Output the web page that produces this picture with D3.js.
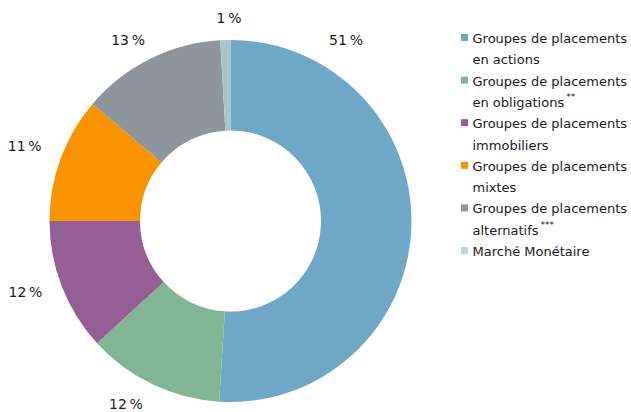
<!DOCTYPE html>
<html><head><meta charset="utf-8">
<script src="https://cdn.jsdelivr.net/npm/d3@7"></script>
<style>html,body{margin:0;padding:0;background:#fff;}svg{display:block;}</style>
</head><body>
<svg id="chart" width="631" height="412"></svg>
<script>
// ---- data ----
const categories = ["Groupes de placements en actions", "Groupes de placements en obligations", "Groupes de placements immobiliers", "Groupes de placements mixtes", "Groupes de placements alternatifs", "Marché Monétaire"];
const values = [51.0, 12.2, 11.8, 11.2, 12.9, 0.9];
const valueLabels = ["51\u2009%", "12\u2009%", "12\u2009%", "11\u2009%", "13\u2009%", "1\u2009%"];
const legendLine1 = ["Groupes de placements", "Groupes de placements", "Groupes de placements", "Groupes de placements", "Groupes de placements", "Marché Monétaire"];
const legendLine2 = ["en actions", "en obligations", "immobiliers", "mixtes", "alternatifs", ""];
const legendSup = ["", "**", "", "", "***", ""];
const sliceColors = ["#6fa8c6", "#82b594", "#955f96", "#f79400", "#8e959d", "#a9c5c7"];
const legendColors = ["#6fa8c6", "#82b594", "#955f96", "#f79400", "#8e959d", "#bcd6e5"];
// label placement (degrees clockwise from top, radius)
const labelAngles = [32.5, 209.7, 250.9, 290, 330.5, -0.4];
const labelRadii = [215, 211, 217, 219, 208, 203];

const svg = d3.select("#chart");
const cx = 230.5, cy = 221, rOuter = 181, rInner = 90.5;
const g = svg.append("g").attr("transform", `translate(${cx},${cy})`);

const pie = d3.pie().value(d => d).sort(null);
const arcs = pie(values);
const arc = d3.arc().innerRadius(rInner).outerRadius(rOuter);

g.selectAll("path.slice").data(arcs).enter().append("path")
  .attr("class", "slice")
  .attr("d", arc)
  .attr("fill", (d, i) => sliceColors[i]);

const font = "'DejaVu Sans', Verdana, sans-serif";
g.selectAll("text.val").data(arcs).enter().append("text")
  .attr("class", "val")
  .attr("x", (d, i) => labelRadii[i] * Math.sin(labelAngles[i] * Math.PI / 180))
  .attr("y", (d, i) => -labelRadii[i] * Math.cos(labelAngles[i] * Math.PI / 180))
  .attr("text-anchor", "middle")
  .attr("dy", "0.36em")
  .attr("font-family", font)
  .attr("font-size", 14)
  .attr("fill", "#1a1a1a")
  .text((d, i) => valueLabels[i]);

// legend
const legend = svg.append("g").attr("transform", "translate(461,0)");
const lineH = 21.3;
let yb = 43;
categories.forEach((c, i) => {
  legend.append("rect").attr("x", 0).attr("y", yb - 9).attr("width", 7).attr("height", 7)
    .attr("fill", legendColors[i]);
  legend.append("text").attr("x", 11.5).attr("y", yb)
    .attr("font-family", font).attr("font-size", 13).attr("fill", "#1a1a1a")
    .text(legendLine1[i]);
  yb += lineH;
  if (legendLine2[i]) {
    const t = legend.append("text").attr("x", 11.5).attr("y", yb)
      .attr("font-family", font).attr("font-size", 13).attr("fill", "#1a1a1a")
      .text(legendLine2[i]);
    if (legendSup[i]) {
      t.append("tspan").attr("dx", 2).attr("dy", -7).attr("font-size", 9).text(legendSup[i]);
    }
    yb += lineH;
  }
});
</script>
</body></html>
